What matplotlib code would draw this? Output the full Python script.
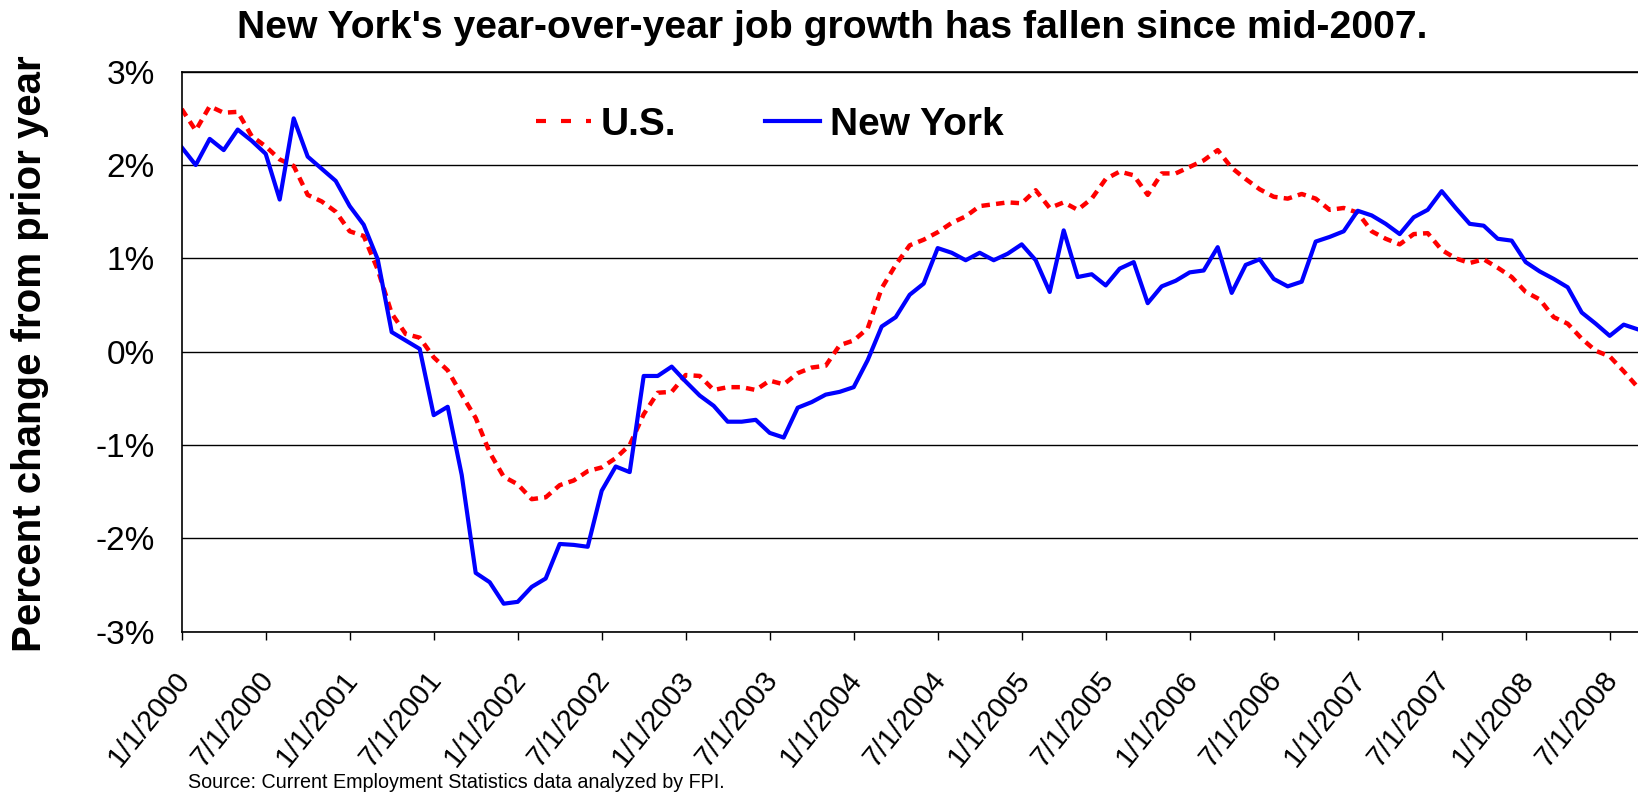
import matplotlib
matplotlib.use("Agg")
import matplotlib.pyplot as plt
import matplotlib.transforms as mtransforms
from matplotlib.lines import Line2D

plt.rcParams['font.family'] = ['Liberation Sans', 'DejaVu Sans']

# Zmiana zatrudnienia rok do roku (%), miesięcznie od 1/2000 do 9/2008
us = [2.60, 2.37, 2.63, 2.56, 2.57, 2.31, 2.20, 2.06, 1.99, 1.68, 1.61, 1.50, 1.29, 1.24, 0.88, 0.41, 0.19, 0.15, -0.06, -0.20,
      -0.46, -0.71, -1.08, -1.34, -1.42, -1.58, -1.56, -1.43, -1.38, -1.28, -1.24, -1.14, -1.00, -0.67, -0.44, -0.43, -0.25, -0.26, -0.41, -0.38,
      -0.38, -0.41, -0.31, -0.35, -0.23, -0.17, -0.15, 0.07, 0.12, 0.25, 0.68, 0.93, 1.14, 1.20, 1.28, 1.38, 1.45, 1.56, 1.58, 1.60,
      1.59, 1.73, 1.54, 1.60, 1.52, 1.64, 1.85, 1.93, 1.89, 1.68, 1.91, 1.91, 1.98, 2.05, 2.16, 1.97, 1.85, 1.74, 1.66, 1.64,
      1.69, 1.64, 1.52, 1.54, 1.49, 1.29, 1.21, 1.15, 1.26, 1.27, 1.09, 1.00, 0.95, 0.99, 0.90, 0.80, 0.64, 0.56, 0.37, 0.30,
      0.14, 0.01, -0.05, -0.21, -0.38]
ny = [2.19, 2.00, 2.28, 2.16, 2.38, 2.26, 2.12, 1.63, 2.50, 2.09, 1.96, 1.83, 1.56, 1.36, 0.99, 0.21, 0.12, 0.03, -0.68, -0.59,
      -1.32, -2.37, -2.47, -2.70, -2.68, -2.52, -2.43, -2.06, -2.07, -2.09, -1.49, -1.23, -1.29, -0.26, -0.26, -0.16, -0.32, -0.47, -0.58, -0.75,
      -0.75, -0.73, -0.87, -0.92, -0.60, -0.54, -0.46, -0.43, -0.38, -0.09, 0.27, 0.37, 0.61, 0.73, 1.11, 1.06, 0.98, 1.06, 0.98, 1.05,
      1.15, 0.98, 0.64, 1.30, 0.80, 0.83, 0.71, 0.89, 0.96, 0.52, 0.70, 0.76, 0.85, 0.87, 1.12, 0.63, 0.93, 0.99, 0.78, 0.70,
      0.75, 1.18, 1.23, 1.29, 1.51, 1.46, 1.37, 1.26, 1.44, 1.52, 1.72, 1.54, 1.37, 1.35, 1.21, 1.19, 0.96, 0.86, 0.78, 0.69,
      0.42, 0.30, 0.17, 0.29, 0.24]
months = list(range(len(us)))

x_labels = ['1/1/2000', '7/1/2000', '1/1/2001', '7/1/2001', '1/1/2002', '7/1/2002',
            '1/1/2003', '7/1/2003', '1/1/2004', '7/1/2004', '1/1/2005', '7/1/2005',
            '1/1/2006', '7/1/2006', '1/1/2007', '7/1/2007', '1/1/2008', '7/1/2008']
x_ticks = [6 * i for i in range(len(x_labels))]
y_ticks = [3, 2, 1, 0, -1, -2, -3]
y_labels = ['3%', '2%', '1%', '0%', '-1%', '-2%', '-3%']

W, H = 1638, 793
fig = plt.figure(figsize=(W / 100, H / 100), dpi=100)
ax = fig.add_axes([181.7 / W, 1 - 631.7 / H, 1 - 181.7 / W, (631.7 - 71.7) / H])

ax.plot(months, us, color='#FF0000', lw=3.2, linestyle=(0, (1.9, 1.4)))
ax.plot(months, ny, color='#0000FF', lw=3)

ax.set_xlim(0, (W - 181.7) / 14)
ax.set_ylim(-3, 3)
ax.set_yticks(y_ticks)
ax.set_yticklabels(y_labels, fontsize=24)
ax.tick_params(axis='y', length=0, pad=19.2)
ax.yaxis.grid(True, color='black', lw=1.0)
ax.set_axisbelow(True)

ax.set_xticks(x_ticks)
ax.set_xticklabels(x_labels, fontsize=21, rotation=51, ha='right', va='center',
                   rotation_mode='anchor')
ax.tick_params(axis='x', direction='out', length=5.8, width=1.0, pad=25.5)
przesun = mtransforms.ScaledTranslation(0.03, 0, fig.dpi_scale_trans)
for lab in ax.get_xticklabels():
    lab.set_transform(lab.get_transform() + przesun)

ax.spines['right'].set_visible(False)
for s in ['left', 'bottom', 'top']:
    ax.spines[s].set_linewidth(1.2)
    ax.spines[s].set_color('black')

# Legenda z osobnymi uchwytami (dłuższe kreski dla U.S.)
us_handle = Line2D([], [], color='#FF0000', lw=3, linestyle=(0, (2.4, 3.6)))
ny_handle = Line2D([], [], color='#0000FF', lw=3)
fig.legend([us_handle, ny_handle], ['U.S.', 'New York'], loc='center left',
           bbox_to_anchor=(536 / W, 1 - 125 / H), ncol=2, frameon=False,
           prop={'weight': 'bold', 'size': 28}, handlelength=55 / 38.9,
           handletextpad=10 / 38.9, columnspacing=89 / 38.9, borderpad=0,
           borderaxespad=0)

fig.text(832.5 / W, 1 - 28 / H, "New York's year-over-year job growth has fallen since mid-2007.",
         ha='center', va='center', fontsize=28.2, weight='bold')
fig.text(30 / W, 1 - 353.5 / H, 'Percent change from prior year', rotation=90,
         ha='center', va='center', fontsize=29, weight='bold')
fig.text(188 / W, 1 - 788 / H, 'Source: Current Employment Statistics data analyzed by FPI.',
         ha='left', va='baseline', fontsize=14.2)

fig.savefig('out.png', dpi=100)
